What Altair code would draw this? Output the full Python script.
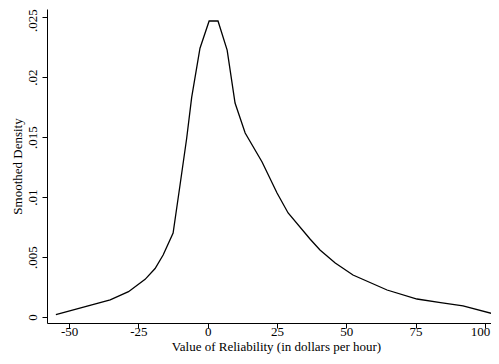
import altair as alt
import pandas as pd

# Value of reliability (x) vs smoothed density (y)
x_vals = [-54.8, -35.2, -28.6, -22.6, -19.0, -16.1, -12.5, -10.0, -7.6, -5.8, -2.8,
          0.5, 3.7, 7.0, 9.85, 13.5, 19.6, 25.0, 29.0, 36.9, 40.5, 46.0, 52.4,
          64.7, 75.5, 84.0, 92.1, 104.5]
y_vals = [0.00019, 0.00142, 0.00211, 0.00314, 0.00404, 0.00517, 0.0070, 0.0110,
          0.0149, 0.0183, 0.0224, 0.02467, 0.02467, 0.02225, 0.01783, 0.01533,
          0.01292, 0.01033, 0.00867, 0.0065, 0.00558, 0.0045, 0.0035, 0.00225,
          0.0015, 0.0012, 0.00092, 0.00017]
x_ticks = [-50, -25, 0, 25, 50, 75, 100]
y_ticks = [0, 0.005, 0.01, 0.015, 0.02, 0.025]

df = pd.DataFrame({"x": x_vals, "y": y_vals})

FONT = "Liberation Serif"

chart = alt.Chart(df).mark_line(color="black", strokeWidth=1.3, clip=True).encode(
    x=alt.X("x:Q",
            scale=alt.Scale(domain=[-58, 102.2], nice=False, zero=False),
            axis=alt.Axis(values=x_ticks, title="Value of Reliability (in dollars per hour)",
                          labelExpr="toString(datum.value)",
                          labelOffset={"condition": {"test": "datum.value == 100", "value": -5}, "value": 0},
                          grid=False, tickSize=5, labelPadding=-3, titlePadding=2,
                          labelFontSize=13, titleFontSize=13, labelFont=FONT, titleFont=FONT,
                          titleFontWeight="normal", domainColor="black", tickColor="black",
                          labelColor="black", titleColor="black", labelFlush=False,
                          titleX=229)),
    y=alt.Y("y:Q",
            scale=alt.Scale(domain=[-0.0005, 0.02567], nice=False, zero=False),
            axis=alt.Axis(values=y_ticks, title="Smoothed Density", grid=False,
                          labelExpr="datum.value == 0 ? '0' : replace(toString(datum.value), '0.', '.')",
                          labelOffset={"condition": {"test": "datum.value > 0.024", "value": 3}, "value": 0},
                          labelAngle=270, labelAlign="center", labelBaseline="bottom",
                          tickSize=5, labelPadding=3, titlePadding=2,
                          labelFontSize=13, titleFontSize=13, labelFont=FONT, titleFont=FONT,
                          titleFontWeight="normal", domainColor="black", tickColor="black",
                          labelColor="black", titleColor="black", labelFlush=False)),
).properties(
    width=444, height=314,
    autosize=alt.AutoSizeParams(type="none"),
    padding={"left": 39, "top": 1, "right": 0, "bottom": 33},
).configure(background="white", font=FONT).configure_view(stroke=None)

chart.save("out.html", embed_options={"renderer": "svg", "actions": False})
